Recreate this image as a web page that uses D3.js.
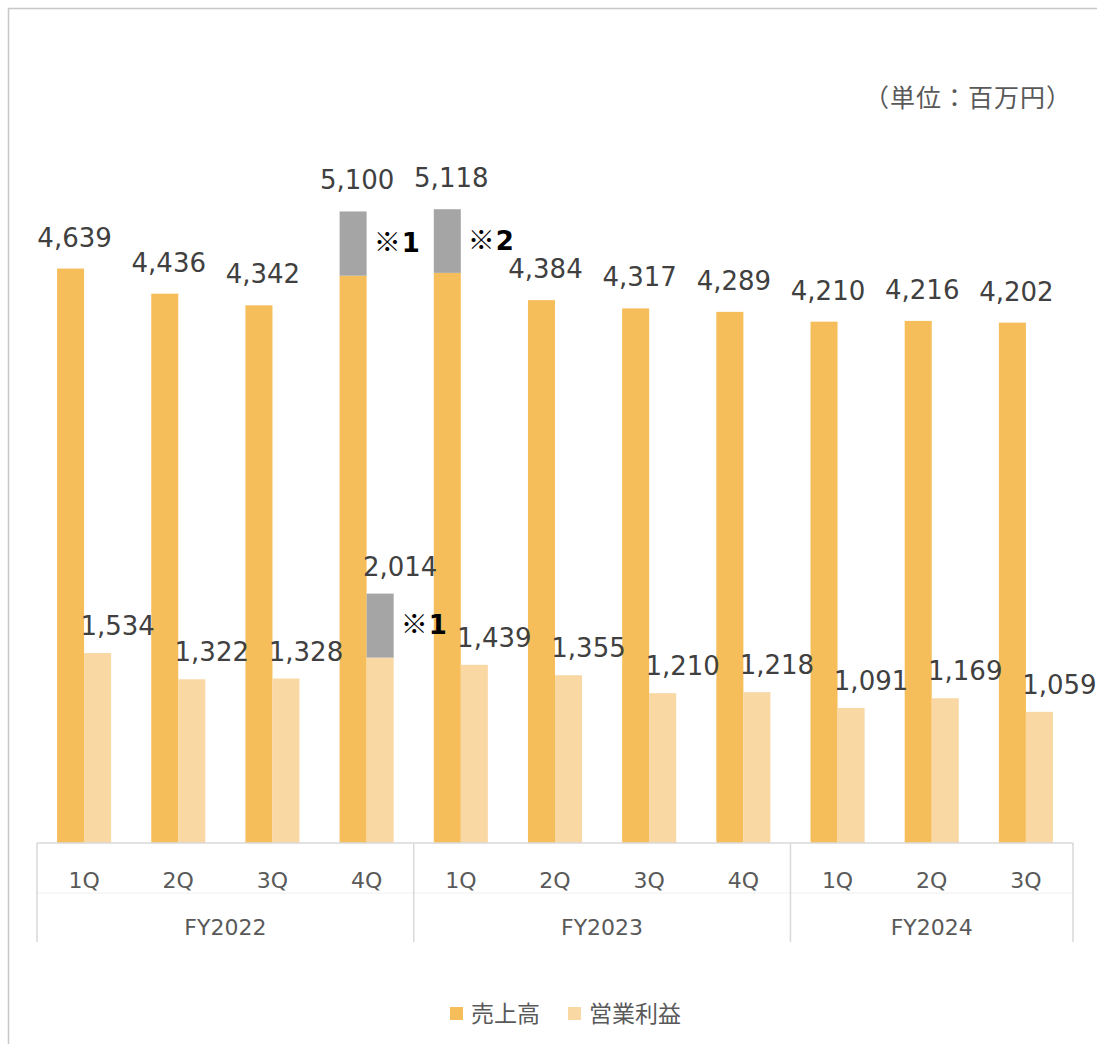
<!DOCTYPE html>
<html lang="ja">
<head>
<meta charset="UTF-8">
<title>売上高・営業利益</title>
<style>
    body { margin: 0; background: #fff; }
    svg { display: block; }
    text { font-family: "DejaVu Sans", "Noto Sans CJK JP", sans-serif; }
    .value { fill: #404040; font-size: 26px; text-anchor: middle; }
    .tick { fill: #595959; font-size: 22px; text-anchor: middle; }
    .note { fill: #000; font-size: 26px; font-weight: bold; }
    .note .mark { font-family: "Noto Sans CJK JP", sans-serif; font-size: 27px; }
    .legend { fill: #595959; font-size: 23px; }
    .unit { fill: #595959; font-size: 25px; letter-spacing: 1px; font-family: "Noto Sans CJK JP", sans-serif; }
</style>
</head>
<body>
<svg id="chart"></svg>
<script src="https://cdn.jsdelivr.net/npm/d3@7"></script>
<script>
const quarters = ["1Q", "2Q", "3Q", "4Q", "1Q", "2Q", "3Q", "4Q", "1Q", "2Q", "3Q"];
const years = ["FY2022", "FY2023", "FY2024"];
const yearSizes = [4, 4, 3];

// totals shown in the labels
const sales  = [4639, 4436, 4342, 5100, 5118, 4384, 4317, 4289, 4210, 4216, 4202];
const profit = [1534, 1322, 1328, 2014, 1439, 1355, 1210, 1218, 1091, 1169, 1059];
// grey part on top of the bars (one-off items)
const salesExtra  = [0, 0, 0, 519, 514, 0, 0, 0, 0, 0, 0];
const profitExtra = [0, 0, 0, 517, 0, 0, 0, 0, 0, 0, 0];
const notes = [
    { series: "sales", index: 3, mark: "※", num: "1" },
    { series: "sales", index: 4, mark: "※", num: "2" },
    { series: "profit", index: 3, mark: "※", num: "1" }
];

const seriesNames = ["売上高", "営業利益"];
const colors = { sales: "#F6BE5B", profit: "#F9D8A4", extra: "#A5A5A5" };

const width = 1097, height = 1044;
const svg = d3.select("#chart").attr("width", width).attr("height", height);

// frame
svg.append("rect")
    .attr("x", 8.5).attr("y", 8.5)
    .attr("width", width + 10).attr("height", height + 10)
    .attr("fill", "none").attr("stroke", "#c8c8c8").attr("stroke-width", 1.5);

const x = d3.scaleBand().domain(d3.range(quarters.length)).range([37, 1073]);
const xSub = d3.scaleBand().domain(["sales", "profit"])
    .range([x.bandwidth() * 0.213, x.bandwidth() * 0.787]);
const y = d3.scaleLinear().domain([0, 6000]).range([843, 100]);

const data = { sales: sales, profit: profit };
const extras = { sales: salesExtra, profit: profitExtra };

const bars = svg.append("g");
["sales", "profit"].forEach(key => {
    const g = bars.append("g");
    g.selectAll("rect.base")
        .data(d3.range(quarters.length))
        .join("rect")
        .attr("x", i => x(i) + xSub(key))
        .attr("width", xSub.bandwidth())
        .attr("y", i => y(data[key][i] - extras[key][i]))
        .attr("height", i => y(0) - y(data[key][i] - extras[key][i]))
        .attr("fill", colors[key]);

    g.selectAll("rect.extra")
        .data(d3.range(quarters.length).filter(i => extras[key][i] > 0))
        .join("rect")
        .attr("x", i => x(i) + xSub(key))
        .attr("width", xSub.bandwidth())
        .attr("y", i => y(data[key][i]))
        .attr("height", i => y(0) - y(extras[key][i]))
        .attr("fill", colors.extra);

    const dx = key === "sales" ? 4 : 20;
    const gap = key === "sales" ? 22 : 18;
    g.selectAll("text")
        .data(d3.range(quarters.length))
        .join("text")
        .attr("class", "value")
        .attr("x", i => x(i) + xSub(key) + xSub.bandwidth() / 2 + dx)
        .attr("y", i => y(data[key][i]) - gap)
        .text(i => d3.format(",")(data[key][i]));
});

// notes next to grey segments
const note = svg.append("g").selectAll("text")
    .data(notes)
    .join("text")
    .attr("class", "note")
    .attr("x", d => x(d.index) + xSub(d.series) + xSub.bandwidth() + 7)
    .attr("y", d => y(data[d.series][d.index] - extras[d.series][d.index] / 2))
    .attr("dy", "0.33em");
note.append("tspan").attr("class", "mark").text(d => d.mark);
note.append("tspan").attr("dx", 1).text(d => d.num);

// category axis
const axis = svg.append("g").attr("stroke", "#d9d9d9").attr("stroke-width", 1.5);
axis.append("line")
    .attr("x1", 37).attr("x2", 1073).attr("y1", y(0)).attr("y2", y(0));
axis.append("line")
    .attr("x1", 37).attr("x2", 1073).attr("y1", 893).attr("y2", 893)
    .attr("stroke", "#f5f5f5");

const yearStarts = yearSizes.map((n, k) => d3.sum(yearSizes.slice(0, k)));
const bounds = yearStarts.map(s => x(s)).concat([x.range()[1]]);
axis.selectAll("line.sep")
    .data(bounds)
    .join("line")
    .attr("x1", d => d).attr("x2", d => d)
    .attr("y1", y(0)).attr("y2", 942);

svg.append("g").selectAll("text")
    .data(quarters)
    .join("text")
    .attr("class", "tick")
    .attr("x", (d, i) => x(i) + x.bandwidth() / 2)
    .attr("y", 888)
    .text(d => d);

svg.append("g").selectAll("text")
    .data(years)
    .join("text")
    .attr("class", "tick")
    .attr("x", (d, k) => (bounds[k] + bounds[k + 1]) / 2)
    .attr("y", 935)
    .text(d => d);

// unit
svg.append("text")
    .attr("class", "unit")
    .attr("x", 1072).attr("y", 107)
    .attr("text-anchor", "end")
    .text("（単位：百万円）");

// legend
const legend = svg.append("g").attr("transform", "translate(450, 1014)");
const legendItems = [
    { name: seriesNames[0], color: colors.sales, x: 0 },
    { name: seriesNames[1], color: colors.profit, x: 118 }
];
const li = legend.selectAll("g")
    .data(legendItems)
    .join("g")
    .attr("transform", d => `translate(${d.x}, 0)`);
li.append("rect")
    .attr("x", 0).attr("y", -7).attr("width", 13).attr("height", 13)
    .attr("fill", d => d.color);
li.append("text")
    .attr("class", "legend")
    .attr("x", 21).attr("y", 0).attr("dy", "0.36em")
    .text(d => d.name);
</script>
</body>
</html>
